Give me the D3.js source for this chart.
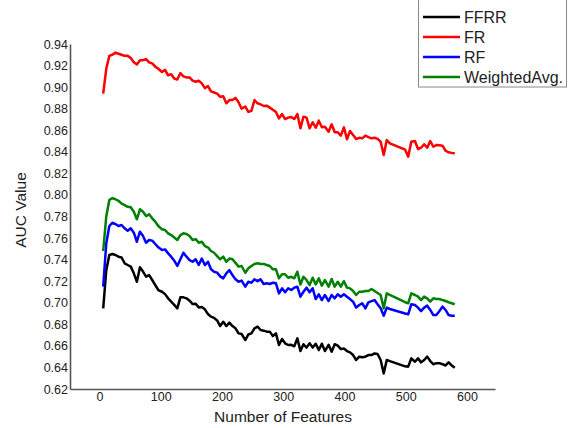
<!DOCTYPE html>
<html>
<head>
<meta charset="utf-8">
<script src="https://cdn.jsdelivr.net/npm/d3@7"></script>
<style>
    body { margin: 0; background: #fff; }
    svg text { font-family: "Liberation Sans", Arial, sans-serif; }
</style>
</head>
<body>
<div id="chart"></div>
<script>
// x values (number of features); gap between ~475 and ~500
const features = [6, 11, 16, 21, 26, 31, 36, 41, 46, 51, 56, 61, 66, 71, 76, 81, 86, 91, 96,
    102, 107, 112, 117, 122, 127, 132, 137, 142, 147, 152, 157, 162, 167, 172, 177, 182, 187, 192, 197, 202, 207, 212, 217, 222, 227, 232,
    238, 243, 248, 253, 258, 263, 268, 273, 278, 283, 288, 293, 298, 303, 308, 313, 318, 323, 328, 333, 338, 343, 348, 353, 358, 363, 368,
    374, 379, 384, 389, 394, 399, 404, 409, 414, 419, 424, 429, 434, 439, 444, 449, 454, 459, 464, 469, 474,
    499, 504, 509, 515, 520, 525, 530, 535, 540, 545, 550, 555, 560, 565, 570, 575, 580];

const ffrr = [0.6948, 0.730, 0.7443, 0.7452, 0.7443, 0.7427, 0.742, 0.7366, 0.735, 0.7335,
    0.7273, 0.7195, 0.7329, 0.7289, 0.7242, 0.7257, 0.7211, 0.7164, 0.7118, 0.7102,
    0.708, 0.7041, 0.701, 0.698, 0.6948, 0.705, 0.705, 0.7041, 0.7019, 0.6988,
    0.699, 0.6957, 0.696, 0.6939, 0.6895, 0.6871, 0.686, 0.6836, 0.6784, 0.6824,
    0.6784, 0.6815, 0.6784, 0.6763, 0.6716, 0.671, 0.6654, 0.6706, 0.6716, 0.6763,
    0.6778, 0.6747, 0.6741, 0.6732, 0.6732, 0.6691, 0.6716, 0.6608, 0.6664, 0.6624,
    0.6608, 0.661, 0.6596, 0.667, 0.6552, 0.6615, 0.6584, 0.6624, 0.6584, 0.662,
    0.6561, 0.662, 0.6552, 0.661, 0.6546, 0.6615, 0.6602, 0.657, 0.6575, 0.6552,
    0.654, 0.6515, 0.6469, 0.65, 0.6495, 0.65, 0.6515, 0.6515, 0.653, 0.6525,
    0.6469, 0.6345, 0.6469, 0.6459,
    0.641, 0.6407, 0.6484, 0.6453, 0.6484, 0.6447, 0.6469, 0.65, 0.6459, 0.643, 0.644, 0.644, 0.643, 0.6418, 0.6447, 0.6418, 0.6397];

const fr = [0.894, 0.917, 0.929, 0.930, 0.932, 0.931, 0.930, 0.929, 0.929, 0.927,
    0.923, 0.921, 0.925, 0.925, 0.926, 0.923, 0.922, 0.919, 0.917, 0.914,
    0.916, 0.911, 0.912, 0.908, 0.907, 0.913, 0.910, 0.909, 0.909, 0.906,
    0.905, 0.906, 0.9035, 0.899, 0.901, 0.896, 0.895, 0.894, 0.891, 0.8915,
    0.885, 0.888, 0.888, 0.890, 0.886, 0.880, 0.882, 0.877, 0.878, 0.888,
    0.885, 0.884, 0.8825, 0.8828, 0.881, 0.879, 0.877, 0.871, 0.875, 0.8704,
    0.8717, 0.8723, 0.8704, 0.875, 0.8618, 0.8726, 0.8717, 0.8618, 0.8674, 0.8624,
    0.8689, 0.8627, 0.8633, 0.8586, 0.8655, 0.8581, 0.8581, 0.855, 0.8627, 0.8516,
    0.8593, 0.8556, 0.8519, 0.853, 0.8525, 0.855, 0.8537, 0.8525, 0.853, 0.852,
    0.8494, 0.837, 0.8509, 0.8479,
    0.842, 0.8355, 0.8494, 0.850, 0.8426, 0.8438, 0.847, 0.8438, 0.850, 0.8447, 0.8463, 0.846, 0.8457, 0.841, 0.8395, 0.839, 0.8386];

const rf = [0.7149, 0.755, 0.7712, 0.7742, 0.773, 0.7712, 0.7721, 0.769, 0.7668, 0.769,
    0.765, 0.7566, 0.7659, 0.7619, 0.7557, 0.7582, 0.7576, 0.7545, 0.7514, 0.7489,
    0.7495, 0.7458, 0.7427, 0.739, 0.7341, 0.7403, 0.7464, 0.7427, 0.7396, 0.738,
    0.7403, 0.735, 0.741, 0.735, 0.738, 0.731, 0.7288, 0.7279, 0.7245, 0.7226,
    0.7273, 0.7303, 0.7257, 0.7217, 0.7195, 0.7205, 0.7149, 0.7195, 0.7186, 0.7217,
    0.72, 0.7217, 0.7174, 0.718, 0.7174, 0.7186, 0.718, 0.7087, 0.7134, 0.7097,
    0.7134, 0.7118, 0.714, 0.7149, 0.7056, 0.7102, 0.714, 0.7097, 0.7134, 0.7034,
    0.7078, 0.7025, 0.7072, 0.7016, 0.7072, 0.7041, 0.7078, 0.7056, 0.7078, 0.7056,
    0.7034, 0.701, 0.6955, 0.6979, 0.6995, 0.6948, 0.7004, 0.7015, 0.7025, 0.6986,
    0.6948, 0.688, 0.6955, 0.6942,
    0.690, 0.6893, 0.6986, 0.6979, 0.6955, 0.6923, 0.6955, 0.6973, 0.6933, 0.6886, 0.6886, 0.6923, 0.6964, 0.6933, 0.6886, 0.688, 0.688];

const weightedAvg = [0.748, 0.780, 0.7953, 0.797, 0.796, 0.7946, 0.792, 0.7906, 0.789, 0.7885,
    0.7844, 0.7774, 0.7867, 0.7844, 0.7804, 0.782, 0.7783, 0.7752, 0.7712, 0.7681,
    0.7675, 0.7644, 0.7628, 0.7605, 0.7582, 0.7628, 0.7644, 0.7638, 0.7619, 0.7582,
    0.759, 0.7557, 0.7566, 0.7526, 0.7514, 0.748, 0.7464, 0.7433, 0.7403, 0.7428,
    0.738, 0.741, 0.7403, 0.737, 0.7335, 0.7341, 0.7278, 0.732, 0.7341, 0.736,
    0.7366, 0.736, 0.736, 0.735, 0.7341, 0.731, 0.731, 0.7227, 0.7264, 0.7264,
    0.7232, 0.7241, 0.7227, 0.7288, 0.717, 0.7241, 0.7211, 0.7164, 0.7232, 0.717,
    0.7227, 0.7158, 0.7211, 0.7149, 0.722, 0.7149, 0.7195, 0.7149, 0.72, 0.714,
    0.7133, 0.7109, 0.7072, 0.7102, 0.7102, 0.7109, 0.7109, 0.7127, 0.7109, 0.709,
    0.7072, 0.6948, 0.7087, 0.7072,
    0.7005, 0.6995, 0.7087, 0.7072, 0.7057, 0.7025, 0.7057, 0.7041, 0.701, 0.7041, 0.7035, 0.7035, 0.7025, 0.7016, 0.7005, 0.6995, 0.6986];

const seriesNames = ['FFRR', 'FR', 'RF', 'WeightedAvg.'];
const seriesColors = ['#000000', '#ff0000', '#0000ff', '#008000'];
const seriesValues = [ffrr, fr, rf, weightedAvg];

const xTicks = [0, 100, 200, 300, 400, 500, 600];
const yTicks = [0.62, 0.64, 0.66, 0.68, 0.70, 0.72, 0.74, 0.76, 0.78, 0.80, 0.82, 0.84, 0.86, 0.88, 0.90, 0.92, 0.94];

const width = 574, height = 428;

const svg = d3.select('#chart')
    .append('svg')
    .attr('width', width)
    .attr('height', height);

const x = d3.scaleLinear()
    .domain([-48.2, 645.7])
    .range([70, 495]);

const y = d3.scaleLinear()
    .domain([0.62, 0.94])
    .range([389, 44]);

// axes
const xAxis = svg.append('g')
    .attr('transform', `translate(0,${y(0.62)})`)
    .call(d3.axisBottom(x).tickValues(xTicks).tickSize(0).tickPadding(3).tickFormat(d3.format('d')));

const yAxis = svg.append('g')
    .attr('transform', `translate(${x.range()[0]},0)`)
    .call(d3.axisLeft(y).tickValues(yTicks).tickSize(0).tickPadding(2).tickFormat(d3.format('.2f')));

[xAxis, yAxis].forEach(g => {
    g.select('.domain').attr('stroke', '#555').attr('stroke-width', 1.6);
    g.selectAll('text')
        .attr('fill', '#222')
        .style('font-size', '12.5px');
});

// axis titles
svg.append('text')
    .attr('x', 283)
    .attr('y', 422)
    .attr('text-anchor', 'middle')
    .attr('fill', '#222')
    .style('font-size', '15.5px')
    .text('Number of Features');

svg.append('text')
    .attr('transform', 'translate(26,210) rotate(-90)')
    .attr('text-anchor', 'middle')
    .attr('fill', '#222')
    .style('font-size', '15.5px')
    .text('AUC Value');

// lines
const line = d3.line()
    .x((d, i) => x(features[i]))
    .y(d => y(d));

svg.append('g')
    .selectAll('path')
    .data(seriesValues)
    .join('path')
    .attr('d', line)
    .attr('fill', 'none')
    .attr('stroke', (d, i) => seriesColors[i])
    .attr('stroke-width', 2.5)
    .attr('stroke-linejoin', 'round');

// legend
const legend = svg.append('g').attr('transform', 'translate(418,0)');

legend.append('rect')
    .attr('x', 0.5)
    .attr('y', -1)
    .attr('width', 148)
    .attr('height', 88)
    .attr('fill', '#fff')
    .attr('stroke', '#888');

const rows = legend.selectAll('g.row')
    .data(seriesNames)
    .join('g')
    .attr('class', 'row')
    .attr('transform', (d, i) => `translate(0,${17 + i * 20})`);

rows.append('line')
    .attr('x1', 5)
    .attr('x2', 42)
    .attr('stroke', (d, i) => seriesColors[i])
    .attr('stroke-width', 2.5);

rows.append('text')
    .attr('x', 46)
    .attr('dy', '0.36em')
    .attr('fill', '#222')
    .style('font-size', '16px')
    .text(d => d);
</script>
</body>
</html>
